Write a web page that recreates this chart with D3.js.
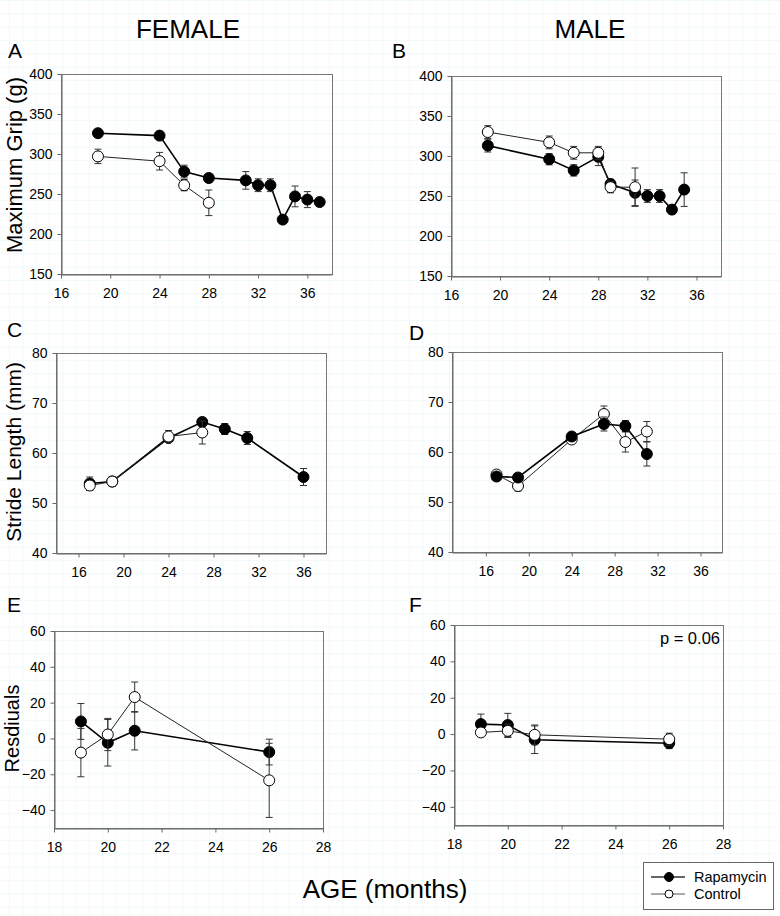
<!DOCTYPE html>
<html>
<head>
<meta charset="utf-8">
<script src="https://cdn.jsdelivr.net/npm/d3@7/dist/d3.min.js"></script>
<style>
  body { margin: 0; background: #fff; }
  text { font-family: "Liberation Sans", Arial, sans-serif; fill: #000; }
</style>
</head>
<body>
<div id="chart"></div>
<script>
// ---- data ----
var gripFemaleRapAge = [19, 24, 26, 28, 31, 32, 33, 34, 35, 36, 37];
var gripFemaleRap    = [326, 323, 278, 270, 267, 261, 261, 218, 247, 243, 240];
var gripFemaleRapErr = [4, 5, 8, 5, 11, 8, 8, 3, 13, 10, 4];
var gripFemaleCtlAge = [19, 24, 26, 28];
var gripFemaleCtl    = [297, 291, 261, 239];
var gripFemaleCtlErr = [9, 11, 7, 16];

var gripMaleRapAge = [19, 24, 26, 28, 29, 31, 32, 33, 34, 35];
var gripMaleRap    = [313, 296, 282, 299, 265, 254, 250, 250, 233, 258];
var gripMaleRapErr = [8, 7, 7, 11, 6, 16, 8, 8, 5, 21];
var gripMaleCtlAge = [19, 24, 26, 28, 29, 31];
var gripMaleCtl    = [330, 317, 304, 304, 261, 261];
var gripMaleCtlErr = [8, 8, 8, 8, 7, 24];

var strideFemaleRapAge = [17, 19, 24, 27, 29, 31, 36];
var strideFemaleRap    = [53.9, 54.3, 63.0, 66.2, 64.8, 63.0, 55.2];
var strideFemaleRapErr = [1.3, 0.9, 0.8, 0.8, 1.1, 1.3, 1.7];
var strideFemaleCtlAge = [17, 19, 24, 27];
var strideFemaleCtl    = [53.5, 54.3, 63.3, 64.1];
var strideFemaleCtlErr = [1.0, 1.0, 1.2, 2.3];

var strideMaleAge    = [17, 19, 24, 27, 29, 31];
var strideMaleRap    = [55.1, 54.9, 63.1, 65.6, 65.2, 59.6];
var strideMaleRapErr = [0.8, 0.6, 0.8, 1.4, 1.1, 2.4];
var strideMaleCtl    = [55.5, 53.2, 62.5, 67.6, 62.0, 64.1];
var strideMaleCtlErr = [0.6, 1.0, 0.6, 1.6, 2.0, 2.0];

var residAge          = [19, 20, 21, 26];
var residFemaleRap    = [9.5, -2.4, 4.3, -7.6];
var residFemaleRapErr = [10, 13, 10.7, 7.2];
var residFemaleCtl    = [-7.9, 2.2, 23.1, -23.4];
var residFemaleCtlErr = [13.5, 9, 8.4, 20.7];
var residMaleRap      = [5.5, 5.0, -3.1, -5.0];
var residMaleRapErr   = [5.5, 6.4, 7.6, 3.0];
var residMaleCtl      = [0.9, 1.8, -0.4, -2.8];
var residMaleCtlErr   = [2.0, 3.7, 5.4, 3.3];

var gripTicks = [150, 200, 250, 300, 350, 400];
var strideTicks = [40, 50, 60, 70, 80];
var residTicks = [-40, -20, 0, 20, 40, 60];
var ageTicks = [16, 20, 24, 28, 32, 36];
var residAgeTicks = [18, 20, 22, 24, 26, 28];

var seriesNames = ["Rapamycin", "Control"];

function zip(ages, vals, errs) {
  return ages.map(function (a, i) {
    return { x: a, y: vals[i], e: errs[i] };
  });
}

// ---- page ----
var W = 780, H = 916;
var svg = d3.select("#chart").append("svg")
  .attr("width", W)
  .attr("height", H);

// faint paper grid in the background
var defs = svg.append("defs");
var pat = defs.append("pattern")
  .attr("id", "paper")
  .attr("patternUnits", "userSpaceOnUse")
  .attr("x", 9).attr("y", 0)
  .attr("width", 13.33).attr("height", 13.33);
pat.append("path")
  .attr("d", "M0.5,0V13.33M0,0.5H13.33")
  .attr("stroke", "#f0f9f9")
  .attr("stroke-width", 1)
  .attr("fill", "none");
svg.append("rect")
  .attr("width", W).attr("height", H)
  .attr("fill", "url(#paper)");

var styles = {
  Rapamycin: { fill: "#000", line: "#000", lineWidth: 1.6, r: 5.5 },
  Control:   { fill: "#fff", line: "#222", lineWidth: 1, r: 5.5 }
};

function drawPanel(p) {
  var x = d3.scaleLinear().domain(p.xDomain).range([p.left, p.right]);
  var y = d3.scaleLinear().domain(p.yDomain).range([p.bottom, p.top]);
  var g = svg.append("g");

  // frame
  g.append("rect")
    .attr("x", p.left + 0.5).attr("y", p.top + 0.5)
    .attr("width", p.right - p.left).attr("height", p.bottom - p.top)
    .attr("fill", "none")
    .attr("stroke", "#777")
    .attr("stroke-width", 1);

  var xAxis = g.append("g")
    .attr("transform", "translate(0," + (p.bottom + 0.5) + ")")
    .call(d3.axisBottom(x).tickValues(p.xTicks).tickSize(4).tickSizeOuter(0).tickPadding(10));
  var yAxis = g.append("g")
    .attr("transform", "translate(" + (p.left + 0.5) + ",0)")
    .call(d3.axisLeft(y).tickValues(p.yTicks).tickSize(4).tickSizeOuter(0).tickPadding(5));
  [xAxis, yAxis].forEach(function (a) {
    a.selectAll("path.domain").attr("stroke", "#666");
    a.selectAll(".tick line").attr("stroke", "#666");
    a.selectAll(".tick text")
      .attr("font-size", "14px")
      .attr("font-family", "'Liberation Sans', Arial, sans-serif")
      .attr("fill", "#000");
  });

  // panel letter
  svg.append("text")
    .attr("x", p.letterX).attr("y", p.letterY)
    .attr("font-size", "21px")
    .text(p.letter);

  if (p.yLabel) {
    svg.append("text")
      .attr("transform", "translate(" + p.yLabelX + "," + ((p.top + p.bottom) / 2 + p.yLabelShift) + ") rotate(-90)")
      .attr("text-anchor", "middle")
      .attr("font-size", p.yLabelSize + "px")
      .text(p.yLabel);
  }

  var line = d3.line()
    .x(function (d) { return x(d.x); })
    .y(function (d) { return y(d.y); });

  p.series.forEach(function (s) {
    var st = styles[s.name];
    var sg = g.append("g");
    sg.append("path")
      .datum(s.data)
      .attr("fill", "none")
      .attr("stroke", st.line)
      .attr("stroke-width", st.lineWidth)
      .attr("d", line);

    var eb = sg.selectAll("g.err")
      .data(s.data)
      .enter()
      .append("g")
      .attr("class", "err")
      .attr("stroke", "#333")
      .attr("stroke-width", 1);
    eb.append("line")
      .attr("x1", function (d) { return x(d.x); })
      .attr("x2", function (d) { return x(d.x); })
      .attr("y1", function (d) { return y(d.y + d.e); })
      .attr("y2", function (d) { return y(d.y - d.e); });
    eb.append("line")
      .attr("x1", function (d) { return x(d.x) - 3.5; })
      .attr("x2", function (d) { return x(d.x) + 3.5; })
      .attr("y1", function (d) { return y(d.y + d.e); })
      .attr("y2", function (d) { return y(d.y + d.e); });
    eb.append("line")
      .attr("x1", function (d) { return x(d.x) - 3.5; })
      .attr("x2", function (d) { return x(d.x) + 3.5; })
      .attr("y1", function (d) { return y(d.y - d.e); })
      .attr("y2", function (d) { return y(d.y - d.e); });

    sg.selectAll("circle")
      .data(s.data)
      .enter()
      .append("circle")
      .attr("cx", function (d) { return x(d.x); })
      .attr("cy", function (d) { return y(d.y); })
      .attr("r", st.r)
      .attr("fill", st.fill)
      .attr("stroke", "#000")
      .attr("stroke-width", 1);
  });
}

var rapF = function (a, v, e) { return { name: "Rapamycin", data: zip(a, v, e) }; };
var ctlF = function (a, v, e) { return { name: "Control", data: zip(a, v, e) }; };

drawPanel({
  letter: "A", letterX: 8, letterY: 58,
  left: 61, right: 332, top: 74, bottom: 274,
  xDomain: [16, 38], yDomain: [150, 400], xTicks: ageTicks, yTicks: gripTicks,
  yLabel: "Maximum Grip (g)", yLabelX: 22, yLabelShift: -9, yLabelSize: 22,
  series: [rapF(gripFemaleRapAge, gripFemaleRap, gripFemaleRapErr),
           ctlF(gripFemaleCtlAge, gripFemaleCtl, gripFemaleCtlErr)]
});
drawPanel({
  letter: "B", letterX: 392, letterY: 58,
  left: 451, right: 721, top: 76, bottom: 276,
  xDomain: [16, 38], yDomain: [150, 400], xTicks: ageTicks, yTicks: gripTicks,
  series: [rapF(gripMaleRapAge, gripMaleRap, gripMaleRapErr),
           ctlF(gripMaleCtlAge, gripMaleCtl, gripMaleCtlErr)]
});
drawPanel({
  letter: "C", letterX: 7, letterY: 337,
  left: 56, right: 326, top: 353, bottom: 553,
  xDomain: [14, 38], yDomain: [40, 80], xTicks: ageTicks, yTicks: strideTicks,
  yLabel: "Stride Length (mm)", yLabelX: 21, yLabelShift: -1, yLabelSize: 21,
  series: [rapF(strideFemaleRapAge, strideFemaleRap, strideFemaleRapErr),
           ctlF(strideFemaleCtlAge, strideFemaleCtl, strideFemaleCtlErr)]
});
drawPanel({
  letter: "D", letterX: 409, letterY: 340,
  left: 452, right: 722, top: 352, bottom: 552,
  xDomain: [12.85, 38], yDomain: [40, 80], xTicks: ageTicks, yTicks: strideTicks,
  series: [ctlF(strideMaleAge, strideMaleCtl, strideMaleCtlErr),
           rapF(strideMaleAge, strideMaleRap, strideMaleRapErr)]
});
drawPanel({
  letter: "E", letterX: 7, letterY: 612,
  left: 54, right: 323, top: 631, bottom: 828,
  xDomain: [18, 28], yDomain: [-50, 60], xTicks: residAgeTicks, yTicks: residTicks,
  yLabel: "Resdiuals", yLabelX: 19, yLabelShift: -1, yLabelSize: 20,
  series: [rapF(residAge, residFemaleRap, residFemaleRapErr),
           ctlF(residAge, residFemaleCtl, residFemaleCtlErr)]
});
drawPanel({
  letter: "F", letterX: 409, letterY: 612,
  left: 454, right: 723, top: 625, bottom: 825,
  xDomain: [18, 28], yDomain: [-50, 60], xTicks: residAgeTicks, yTicks: residTicks,
  series: [rapF(residAge, residMaleRap, residMaleRapErr),
           ctlF(residAge, residMaleCtl, residMaleCtlErr)]
});

// p value in F
svg.append("text")
  .attr("x", 720).attr("y", 644)
  .attr("text-anchor", "end")
  .attr("font-size", "16.5px")
  .text("p = 0.06");

// column titles
svg.append("text")
  .attr("x", 188).attr("y", 38)
  .attr("text-anchor", "middle")
  .attr("font-size", "26px")
  .text("FEMALE");
svg.append("text")
  .attr("x", 590).attr("y", 38)
  .attr("text-anchor", "middle")
  .attr("font-size", "26px")
  .text("MALE");

// shared x label
svg.append("text")
  .attr("x", 385).attr("y", 898)
  .attr("text-anchor", "middle")
  .attr("font-size", "26px")
  .text("AGE (months)");

// legend
var legend = svg.append("g").attr("transform", "translate(643,862)");
legend.append("rect")
  .attr("x", 0.5).attr("y", 0.5)
  .attr("width", 130).attr("height", 47)
  .attr("fill", "#fff")
  .attr("stroke", "#666");
var items = legend.selectAll("g.item")
  .data(seriesNames)
  .enter()
  .append("g")
  .attr("class", "item")
  .attr("transform", function (d, i) { return "translate(0," + (15 + i * 17) + ")"; });
items.append("line")
  .attr("x1", 8).attr("x2", 42)
  .attr("stroke", function (d) { return d === "Rapamycin" ? "#333" : "#555"; })
  .attr("stroke-width", function (d) { return d === "Rapamycin" ? 1.6 : 1; });
items.append("circle")
  .attr("cx", 26).attr("r", function (d) { return d === "Rapamycin" ? 4.5 : 4; })
  .attr("fill", function (d) { return styles[d].fill; })
  .attr("stroke", "#000");
items.append("text")
  .attr("x", 51).attr("y", 5)
  .attr("font-size", "14.5px")
  .text(function (d) { return d; });
</script>
</body>
</html>
